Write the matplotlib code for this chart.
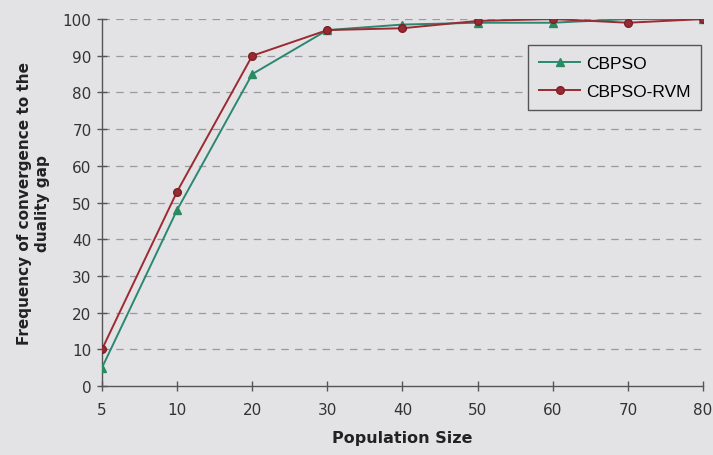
import matplotlib
matplotlib.use("Agg")
import matplotlib.pyplot as plt
import numpy as np

# Population sizes (category axis) and convergence frequencies (%)
population = ["5", "10", "20", "30", "40", "50", "60", "70", "80"]
cbpso = [5, 48, 85, 97, 98.5, 99, 99, 100, 100]
cbpso_rvm = [10, 53, 90, 97, 97.5, 99.5, 100, 99, 100]
y_ticks = list(range(0, 101, 10))

bg = "#e3e3e6"
green = "#2a8870"
red = "#9c2a30"

fig = plt.figure(figsize=(7.13, 4.56), dpi=100, facecolor=bg)
ax = fig.add_axes([0.143, 0.151, 0.843, 0.805], facecolor=bg)

x = np.arange(len(population))
ax.plot(x, cbpso, color=green, lw=1.4, marker="^", ms=5.5,
        mfc="#2a8a62", mec="#2a8a62", label="CBPSO", zorder=3)
ax.plot(x, cbpso_rvm, color=red, lw=1.4, marker="o", ms=5.5,
        mfc="#9a2a30", mec="#7a2028", label="CBPSO-RVM", zorder=4)

ax.set_xlim(0, len(population) - 1)
ax.set_ylim(0, 100)
ax.set_xticks(x)
ax.set_xticklabels(population)
ax.set_yticks(y_ticks)

for v in y_ticks[1:]:
    ax.axhline(v, color="#9a9a9e", lw=0.9, ls=(0, (6, 5)), zorder=1)

for side in ("top", "right"):
    ax.spines[side].set_visible(False)
for side in ("left", "bottom"):
    ax.spines[side].set_color("#555555")
    ax.spines[side].set_linewidth(1.0)

ax.tick_params(axis="both", direction="inout", length=7, width=1.0,
               color="#555555", labelsize=11, labelcolor="#333333")
ax.tick_params(axis="x", pad=8)
ax.tick_params(axis="y", pad=4)

ax.set_xlabel("Population Size", fontsize=11.5, fontweight="bold",
              color="#222222", labelpad=9)
ax.set_ylabel("Frequency of convergence to the\nduality gap", fontsize=11,
              fontweight="bold", color="#222222", labelpad=9, linespacing=1.25)

leg = ax.legend(loc="upper right", bbox_to_anchor=(0.996, 0.928),
                frameon=True, fancybox=False, edgecolor="#555555",
                facecolor=bg, framealpha=1.0, handlelength=2.4,
                handletextpad=0.3, borderpad=0.6, labelspacing=0.75,
                borderaxespad=0,
                prop={"family": "Liberation Sans", "size": 12.5})
leg.get_frame().set_linewidth(1.0)

fig.savefig("out.png", dpi=100, facecolor=bg)
